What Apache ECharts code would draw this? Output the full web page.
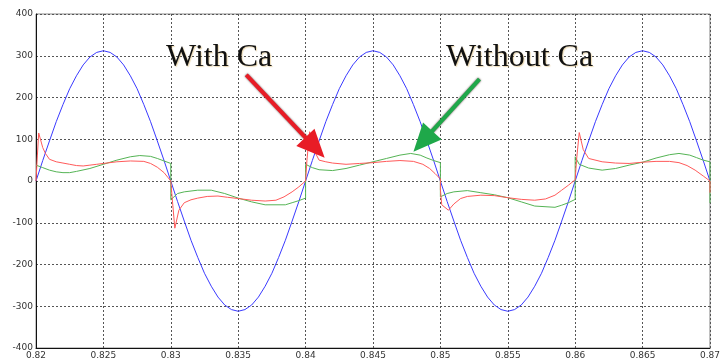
<!DOCTYPE html>
<html>
<head>
<meta charset="utf-8">
<script src="https://cdn.jsdelivr.net/npm/echarts@6/dist/echarts.min.js"></script>
<style>
  html, body { margin: 0; padding: 0; background: #fff; }
  #chart { width: 723px; height: 362px; }
</style>
</head>
<body>
<div id="chart"></div>
<script>
// Supply voltage, sampled every 0.5 ms from t = 0.82 s
const voltageStart = 0.82;
const voltageStep = 0.0005;
const voltage = [
  0, 49, 96, 142, 183, 221, 252, 278, 297, 308, 312, 308, 297, 278, 252, 221, 183, 142, 96, 49,
  0, -49, -96, -142, -183, -221, -252, -278, -297, -308, -312, -308, -297, -278, -252, -221, -183, -142, -96, -49,
  0, 49, 96, 142, 183, 221, 252, 278, 297, 308, 312, 308, 297, 278, 252, 221, 183, 142, 96, 49,
  0, -49, -96, -142, -183, -221, -252, -278, -297, -308, -312, -308, -297, -278, -252, -221, -183, -142, -96, -49,
  0, 49, 96, 142, 183, 221, 252, 278, 297, 308, 312, 308, 297, 278, 252, 221, 183, 142, 96, 49, 0
];

// Line current with the capacitor (time s, value)
const currentWithCa = [
  [0.82, 0], [0.8201, 60], [0.8202, 115], [0.8205, 80], [0.8207, 66], [0.821, 52], [0.8215, 46],
  [0.822, 43], [0.8225, 40], [0.823, 37], [0.8235, 36], [0.824, 38], [0.8245, 40], [0.825, 42],
  [0.826, 46], [0.827, 48], [0.828, 47], [0.8285, 42], [0.829, 33], [0.8295, 20], [0.8298, 8], [0.83, 0],
  [0.8301, -40], [0.8303, -113], [0.8306, -70], [0.831, -52], [0.8315, -45], [0.832, -41], [0.8327, -37],
  [0.8335, -36], [0.8342, -39], [0.835, -42], [0.836, -46], [0.837, -48], [0.8378, -46], [0.8384, -38],
  [0.839, -26], [0.8395, -14], [0.84, 0],
  [0.8401, 50], [0.8403, 118], [0.8406, 75], [0.841, 50], [0.8415, 46], [0.842, 43], [0.843, 40],
  [0.844, 42], [0.845, 44], [0.846, 47], [0.847, 49], [0.848, 47], [0.8487, 40], [0.8492, 30],
  [0.8496, 18], [0.85, 5],
  [0.85, -20], [0.8501, -57], [0.8506, -70], [0.851, -55], [0.8515, -42], [0.852, -37], [0.853, -34],
  [0.854, -35], [0.855, -40], [0.856, -44], [0.857, -46], [0.8578, -43], [0.8585, -34], [0.859, -22],
  [0.8595, -10], [0.86, 3],
  [0.8601, 50], [0.8603, 116], [0.8606, 75], [0.861, 54], [0.862, 46], [0.863, 43], [0.864, 42],
  [0.865, 45], [0.866, 47], [0.867, 47], [0.8677, 44], [0.8683, 37], [0.8689, 26], [0.8695, 12],
  [0.87, 0], [0.87, -28]
];

// Line current without the capacitor (time s, value)
const currentWithoutCa = [
  [0.82, 38], [0.8205, 32], [0.821, 26], [0.8215, 22], [0.822, 20], [0.8225, 20], [0.823, 23],
  [0.824, 30], [0.825, 40], [0.826, 50], [0.827, 58], [0.8277, 61], [0.8285, 59], [0.829, 54],
  [0.8295, 48], [0.83, 42],
  [0.83, -45], [0.8305, -30], [0.831, -26], [0.832, -22], [0.833, -22], [0.834, -30], [0.835, -41],
  [0.836, -50], [0.837, -57], [0.8385, -57], [0.839, -52], [0.8395, -47], [0.84, -41],
  [0.84, 40], [0.8405, 32], [0.841, 27], [0.842, 25], [0.843, 30], [0.844, 38], [0.845, 46],
  [0.846, 54], [0.847, 62], [0.8478, 66], [0.8485, 62], [0.849, 55], [0.8495, 49], [0.85, 44],
  [0.85, -38], [0.8505, -30], [0.851, -26], [0.852, -23], [0.853, -28], [0.854, -33], [0.855, -40],
  [0.856, -50], [0.857, -60], [0.8585, -63], [0.859, -58], [0.8595, -52], [0.86, -44],
  [0.86, 58], [0.8603, 40], [0.861, 31], [0.862, 26], [0.863, 30], [0.864, 38], [0.865, 45],
  [0.866, 55], [0.867, 63], [0.8677, 66], [0.8685, 62], [0.869, 56], [0.8695, 50], [0.87, 46],
  [0.87, -53]
];

// Axis ticks
const xTicks = { min: 0.82, max: 0.87, interval: 0.005 };
const yTicks = { min: -400, max: 400, interval: 100 };

// Callout arrows: [tail, arrow-head centre] in data coordinates
const arrowWithCa = [[0.8356, 254], [0.8407, 80]];
const arrowWithoutCa = [[0.8529, 244], [0.8487, 95]];

const voltageData = voltage.map((v, i) => [voltageStart + i * voltageStep, v]);

const chart = echarts.init(document.getElementById('chart'), null, { renderer: 'canvas' });

const gridLine = { show: true, lineStyle: { color: '#555', width: 1, type: [2, 2] } };
const tickFont = { fontFamily: 'DejaVu Sans', fontSize: 9, color: '#333' };

function arrowLine(points, color) {
  return {
    silent: true,
    symbol: ['none', 'triangle'],
    symbolSize: [25, 28],
    label: { show: false },
    lineStyle: {
      color: color, width: 4, type: 'solid',
      shadowColor: 'rgba(40,0,0,0.75)', shadowBlur: 2
    },
    itemStyle: { color: color },
    emphasis: { disabled: true },
    data: [[{ coord: points[0] }, { coord: points[1] }]]
  };
}

const calloutStyle = {
  font: '32px "Liberation Serif"', fill: '#111',
  textShadowColor: 'rgba(200,150,40,0.35)', textShadowBlur: 1, textShadowOffsetX: 1, textShadowOffsetY: 1
};

chart.setOption({
  animation: false,
  backgroundColor: '#fff',
  grid: { left: 36, right: 9, top: 14, bottom: 14, show: true, borderColor: '#888', borderWidth: 1 },
  xAxis: {
    type: 'value',
    min: xTicks.min, max: xTicks.max, interval: xTicks.interval,
    axisLine: { show: true, onZero: false, lineStyle: { color: '#111', width: 1 } },
    axisTick: { show: false },
    axisLabel: Object.assign({ margin: 3, formatter: v => String(parseFloat(v.toFixed(3))) }, tickFont),
    splitLine: gridLine
  },
  yAxis: {
    type: 'value',
    min: yTicks.min, max: yTicks.max, interval: yTicks.interval,
    axisLine: { show: true, onZero: false, lineStyle: { color: '#111', width: 1 } },
    axisTick: { show: false },
    axisLabel: Object.assign({ margin: 3 }, tickFont),
    splitLine: gridLine
  },
  series: [
    {
      name: 'Voltage', type: 'line', data: voltageData, showSymbol: false, smooth: false,
      lineStyle: { color: '#3a3aff', width: 1 }, z: 2
    },
    {
      name: 'Without Ca', type: 'line', data: currentWithoutCa, showSymbol: false,
      lineStyle: { color: '#55b455', width: 1 }, z: 3,
      markLine: arrowLine(arrowWithoutCa, '#1fa84a')
    },
    {
      name: 'With Ca', type: 'line', data: currentWithCa, showSymbol: false,
      lineStyle: { color: '#ff5a5a', width: 1 }, z: 4,
      markLine: arrowLine(arrowWithCa, '#e81c26')
    }
  ],
  graphic: [
    { type: 'text', left: 166, top: 42, z: 10, style: Object.assign({ text: 'With Ca' }, calloutStyle) },
    { type: 'text', left: 446, top: 42, z: 10, style: Object.assign({ text: 'Without Ca' }, calloutStyle) }
  ]
});
</script>
</body>
</html>
